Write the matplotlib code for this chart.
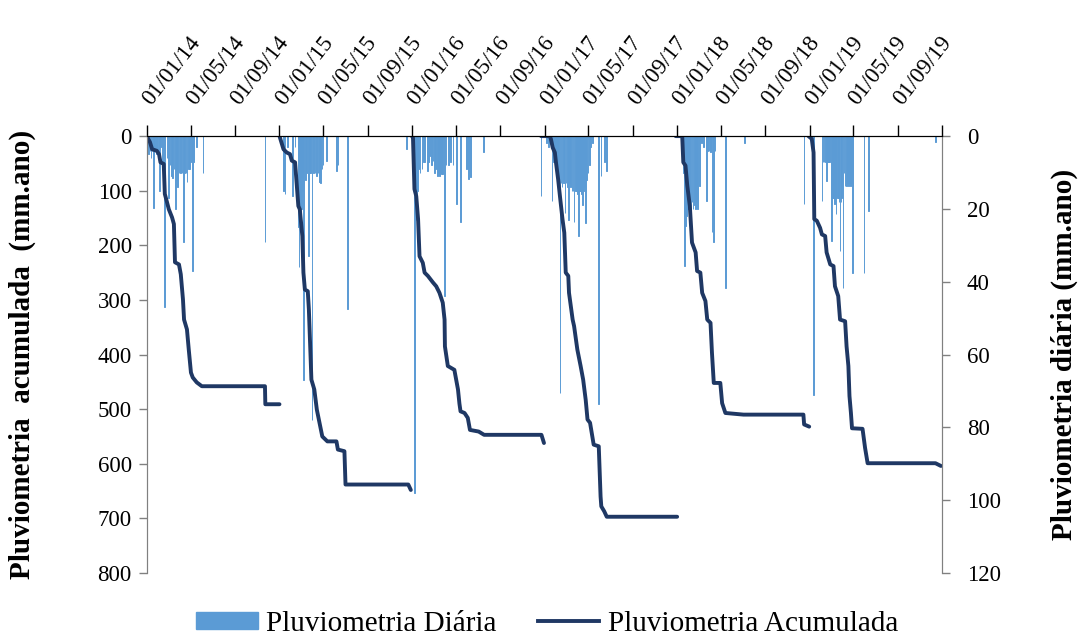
import numpy as np
import pandas as pd
import matplotlib
matplotlib.use("Agg")
import matplotlib.pyplot as plt
from matplotlib.lines import Line2D
from matplotlib.patches import Patch

plt.rcParams['font.family'] = ['Liberation Serif', 'DejaVu Serif']

# daily rainfall (day of year, mm) for each year
daily_2014 = [(2, 4), (5, 5), (8, 4), (11, 6), (14, 4), (18, 19.8), (21, 4), (26, 5), (30, 4),
              (34, 15), (38, 3), (43, 7.2), (49, 47), (55, 6), (59, 17), (63, 8), (67, 11),
              (71, 11.5), (74, 9), (78, 20), (81, 12), (84, 14), (88, 10), (92, 10), (96, 10),
              (101, 29), (104, 10), (107, 10), (110, 12.7), (114, 9), (117, 9), (122, 7),
              (126, 37), (129, 7), (137, 3), (154, 10), (325, 29)]
daily_2015 = [(11, 15), (15, 16), (22, 3), (36, 16.4), (43, 3), (52, 25), (54, 36), (56, 20),
              (58, 22), (60, 20), (63, 15), (66, 67), (71, 12), (75, 10), (79, 33), (83, 10),
              (86, 10), (90, 78), (94, 10), (98, 10), (102, 11), (106, 10), (110, 12.7),
              (113, 13), (117, 9), (120, 8), (130, 6.8), (157, 9.5), (161, 8), (187, 47.6),
              (350, 3.6)]
daily_2016 = [(5, 12), (7, 98), (9, 20), (11, 23), (13, 18), (16, 15), (19, 9), (22, 10), (28, 9),
              (31, 7), (35, 7.2), (42, 9.5), (45, 7), (49, 5.4), (53, 8), (58, 6.8), (62, 10),
              (66, 9), (70, 11), (73, 10), (76, 11), (79, 10), (81, 10.5), (85, 10.5), (90, 44),
              (94, 8), (100, 8), (107, 7), (113, 8), (122, 18.7), (134, 23.7), (150, 9),
              (155, 11.9), (161, 11.3), (198, 4.4), (356, 16.4)]
daily_2017 = [(5, 2), (10, 3), (20, 17.8), (24, 7), (27, 7), (30, 8), (33, 10), (36, 13), (39, 13),
              (42, 70.5), (45, 13), (48, 14), (51, 13), (53, 13), (56, 21), (59, 13), (62, 14),
              (66, 23), (69, 13), (72, 14), (75, 15), (78, 15), (81, 23.7), (84, 15), (87, 15),
              (90, 16), (93, 27.4), (96, 15), (99, 15), (102, 16), (104, 19), (107, 15),
              (110, 14), (113, 24), (116, 12), (119, 10), (123, 8), (127, 3), (131, 2),
              (148, 73.7), (155, 11), (164, 7.2), (170, 9.5)]
daily_2018 = [(17, 10), (20, 35.7), (23, 24.7), (26, 22), (29, 20), (32, 20), (35, 19), (38, 20),
              (41, 18), (44, 20), (47, 19), (50, 20), (53, 18), (56, 20), (62, 13.7), (67, 2),
              (73, 3), (80, 17.8), (84, 4), (88, 4), (92, 4.5), (96, 26.4), (101, 29), (104, 4),
              (133, 41.6), (185, 1.8), (350, 18.7)]
daily_2019 = [(11, 71), (34, 17.8), (37, 7), (40, 7), (43, 7), (46, 12.3), (49, 7), (52, 7),
              (55, 7), (61, 28.8), (64, 17), (66, 17), (69, 18.7), (71, 17), (73, 21.5), (76, 17),
              (79, 17), (81, 18), (84, 31.6), (87, 18), (89, 17), (92, 41.6), (95, 10),
              (98, 13.7), (101, 13.7), (104, 13), (107, 13.7), (110, 13), (113, 13.7),
              (116, 13), (118, 37.5), (150, 37.5), (162, 20.5), (347, 1.7)]

# accumulated rainfall (day of year, mm), one curve per year
acum_2014 = [(0, 0), (3, 5), (8, 11), (14, 24), (27, 27), (33, 33), (37, 48), (46, 51), (49, 106),
             (55, 121), (60, 134), (69, 149), (74, 161), (77, 231), (88, 235), (93, 253),
             (99, 299), (102, 336), (110, 354), (115, 391), (121, 433), (126, 442), (137, 451),
             (151, 458), (325, 458), (326, 491), (365, 491)]
acum_2015 = [(0, 0), (1, 2), (11, 24), (20, 30), (29, 33), (34, 45), (43, 48), (52, 128),
             (56, 134), (63, 183), (66, 250), (70, 281), (78, 284), (81, 317), (88, 446),
             (96, 464), (103, 501), (118, 550), (132, 559), (157, 559), (161, 574), (179, 577),
             (182, 638), (355, 638), (362, 648)]
acum_2016 = [(0, 0), (3, 3), (7, 97), (12, 110), (17, 152), (21, 220), (30, 232), (35, 250),
             (44, 256), (58, 268), (67, 275), (76, 287), (85, 305), (90, 336), (91, 385),
             (99, 421), (117, 428), (122, 446), (127, 464), (131, 490), (134, 504), (145, 507),
             (154, 516), (160, 538), (184, 541), (199, 547), (357, 547), (364, 562)]
acum_2017 = [(-10, 0), (14, 0), (17, 5), (22, 21), (28, 30), (31, 48), (37, 79), (43, 116),
             (49, 152), (54, 177), (58, 250), (65, 256), (67, 287), (77, 336), (81, 348),
             (90, 391), (99, 421), (106, 446), (113, 483), (118, 519), (125, 525), (135, 565),
             (149, 568), (154, 660), (156, 678), (164, 687), (171, 697), (365, 697)]
acum_2018 = [(-4, 0), (14, 0), (17, 48), (23, 54), (28, 91), (35, 128), (41, 195), (51, 213),
             (55, 247), (64, 250), (69, 287), (78, 302), (83, 336), (92, 342), (96, 397),
             (101, 452), (119, 452), (124, 489), (133, 507), (183, 510), (348, 510), (350, 528),
             (364, 532)]
acum_2019 = [(-3, 0), (6, 5), (11, 30), (13, 152), (20, 155), (29, 168), (34, 180), (43, 183),
             (47, 213), (57, 235), (66, 238), (70, 275), (79, 293), (84, 336), (98, 339),
             (102, 385), (107, 421), (110, 476), (114, 507), (117, 535), (146, 536), (153, 571),
             (160, 599), (347, 599), (362, 604)]

years = [2014, 2015, 2016, 2017, 2018, 2019]
daily = [daily_2014, daily_2015, daily_2016, daily_2017, daily_2018, daily_2019]
acum = [acum_2014, acum_2015, acum_2016, acum_2017, acum_2018, acum_2019]

bar_color = '#5B9BD5'
line_color = '#1F3864'


def to_dates(year, pts):
    doy = np.array([p[0] for p in pts], dtype=float)
    val = np.array([p[1] for p in pts], dtype=float)
    d = pd.Timestamp(year, 1, 1) + pd.to_timedelta(doy, unit='D')
    return d, val


fig = plt.figure(figsize=(10.86, 6.39), dpi=100)
ax = fig.add_axes([0.1354, 0.1033, 0.7320, 0.6837])
ax2 = ax.twinx()

for yr, dl in zip(years, daily):
    d, v = to_dates(yr, dl)
    ax2.bar(d, v, width=2.0, color=bar_color, edgecolor=bar_color, linewidth=0.7)

for yr, ac in zip(years, acum):
    d, v = to_dates(yr, ac)
    ax.plot(d, v, color=line_color, lw=2.8, solid_joinstyle='round', solid_capstyle='round')

ax.set_zorder(ax2.get_zorder() + 1)
ax.patch.set_visible(False)

ax.set_xlim(pd.Timestamp(2014, 1, 1), pd.Timestamp(2020, 1, 1))
ax.set_ylim(800, 0)
ax2.set_ylim(120, 0)
ax.set_yticks(range(0, 801, 100))
ax2.set_yticks(range(0, 121, 20))

ticks = pd.date_range('2014-01-01', '2020-01-01', freq='4MS')
ax.set_xticks(ticks)
ax.set_xticklabels([t.strftime('%d/%m/%y') if t.year < 2020 else '' for t in ticks])
ax.xaxis.tick_top()
ax.tick_params(axis='x', direction='out', length=8, width=1, pad=16, labelsize=16.5,
               labelrotation=52)
for lab in ax.get_xticklabels():
    lab.set_ha('left')
    lab.set_va('center')
    lab.set_rotation_mode('anchor')

ax.tick_params(axis='y', direction='out', length=6, width=1, colors='#808080',
               labelcolor='black', labelsize=16.5, pad=5)
ax2.tick_params(axis='y', direction='out', length=6, width=1, colors='#808080',
                labelcolor='black', labelsize=16.5, pad=12)

for a in (ax, ax2):
    a.spines['bottom'].set_visible(False)
    a.spines['top'].set_color('black')
    a.spines['left'].set_color('#808080')
    a.spines['right'].set_color('#808080')

ax.set_ylabel('Pluviometria  acumulada  (mm.ano)', fontsize=21, fontweight='bold', labelpad=44)
ax2.set_ylabel('Pluviometria diária (mm.ano)', fontsize=21, fontweight='bold', labelpad=36)

handles = [Patch(facecolor=bar_color, edgecolor=bar_color),
           Line2D([0], [0], color=line_color, lw=2.8)]
fig.legend(handles, ['Pluviometria Diária', 'Pluviometria Acumulada'], ncol=2,
           loc='center', bbox_to_anchor=(0.504, 0.024), frameon=False, fontsize=21,
           handlelength=2.1, handleheight=0.5, columnspacing=1.4, handletextpad=0.3,
           borderpad=0.1)

fig.savefig('out.png', dpi=100)
